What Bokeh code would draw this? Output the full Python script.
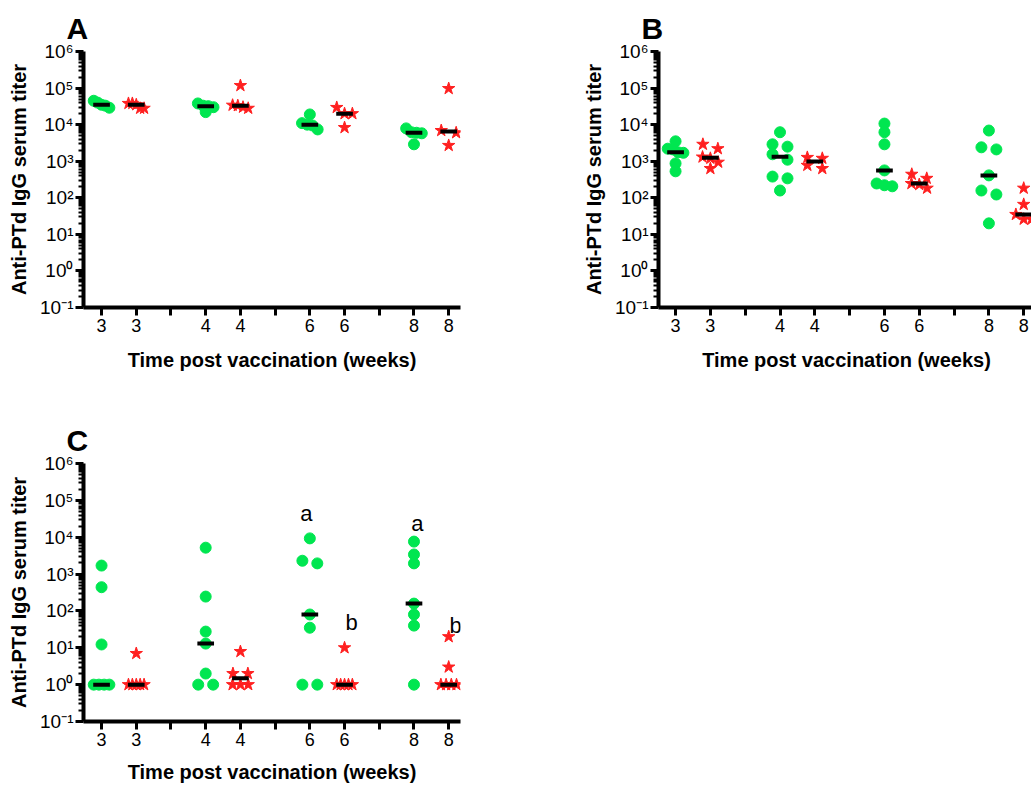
import numpy as np
from bokeh.plotting import figure
from bokeh.layouts import column, row
from bokeh.models import FixedTicker, Range1d
from bokeh.embed import file_html
from bokeh.resources import INLINE
from bokeh.core.properties import value

FONT = "Liberation Sans"
GREEN = "#00E650"
RED = "#FF2020"

# ---------------- data ----------------
x_ticks = [1, 2, 3, 4, 5, 6, 7, 8, 9, 10, 11]
x_tick_labels = ["3", "3", "", "4", "4", "", "6", "6", "", "8", "8"]
group_x_green = [1, 4, 7, 10]      # columns for the green (circle) groups
group_x_red = [2, 5, 8, 11]        # columns for the red (star) groups

y_ticks = [1e-1, 1e0, 1e1, 1e2, 1e3, 1e4, 1e5, 1e6]
y_tick_labels = ["10⁻¹", "10⁰", "10¹", "10²", "10³", "10⁴", "10⁵", "10⁶"]

x_title = "Time post vaccination (weeks)"
y_title = "Anti-PTd IgG serum titer"

# Panel A  (weeks 3, 4, 6, 8)
A_green = [
    [4.5e4, 4.0e4, 3.5e4, 3.3e4, 2.9e4],
    [3.8e4, 3.3e4, 3.2e4, 3.0e4, 2.2e4],
    [1.9e4, 1.1e4, 1.0e4, 9.5e3, 7.4e3],
    [7.9e3, 6.2e3, 6.0e3, 5.8e3, 2.9e3],
]
A_red = [
    [3.8e4, 3.8e4, 3.5e4, 2.8e4, 2.8e4],
    [1.17e5, 3.4e4, 3.3e4, 3.0e4, 2.8e4],
    [2.95e4, 2.0e4, 2.0e4, 8.3e3],
    [9.7e4, 6.9e3, 6.0e3, 2.7e3],
]

# Panel B
B_green = [
    [3.5e3, 2.2e3, 2.1e3, 1.75e3, 1.7e3, 870, 530],
    [6.2e3, 2.9e3, 2.5e3, 1.55e3, 1.1e3, 380, 340, 158],
    [1.07e4, 6.2e3, 2.9e3, 560, 246, 220, 206],
    [6.9e3, 2.4e3, 2.1e3, 410, 158, 123, 20],
]
B_red = [
    [2.9e3, 2.2e3, 1.3e3, 1.2e3, 940, 630],
    [1.27e3, 1.2e3, 770, 630],
    [440, 340, 245, 230, 183],
    [183, 66, 35, 26, 26],
]

# Panel C
C_green = [
    [1.7e3, 440, 12.3, 1, 1, 1, 1],
    [5.2e3, 245, 27.5, 13, 2.0, 1, 1],
    [9.3e3, 2.3e3, 1.95e3, 80, 35, 1, 1],
    [7.6e3, 3.4e3, 1.95e3, 158, 80, 40, 1],
]
C_red = [
    [7.0, 1, 1, 1, 1, 1],
    [7.9, 2, 2, 1, 1, 1],
    [10, 1, 1, 1, 1, 1],
    [20, 3, 1, 1, 1, 1],
]
C_sig_text = ["a", "b", "a", "b"]
C_sig_x = [6.9, 8.2, 10.1, 11.2]
C_sig_y = [4.4e4, 50, 2.3e4, 40]


# ---------------- helpers ----------------
def swarm(center, vals, bin_dec=0.2, max_step=0.43, max_width=0.45):
    """Deterministic column-scatter: points of similar value share a row and are spread."""
    order = sorted(range(len(vals)), key=lambda i: -vals[i])
    xs = [0.0] * len(vals)
    rows, cur = [], []
    for i in order:
        lv = np.log10(vals[i])
        if cur and (np.log10(vals[cur[0]]) - lv) < bin_dec:
            cur.append(i)
        else:
            if cur:
                rows.append(cur)
            cur = [i]
    rows.append(cur)
    for r in rows:
        n = len(r)
        step = min(max_step, max_width / (n - 1)) if n > 1 else 0.0
        for k, i in enumerate(r):
            xs[i] = center + (k - (n - 1) / 2) * step
    return xs


def style_axes(p, xlab_standoff):
    for ax in (p.xaxis[0], p.yaxis[0]):
        ax.axis_line_width = 4
        ax.axis_line_color = "black"
        ax.major_tick_line_width = 3
        ax.major_tick_out = 8
        ax.major_tick_in = 0
        ax.minor_tick_line_width = 2
        ax.minor_tick_out = 5
        ax.minor_tick_in = 0
        ax.major_label_text_font = FONT
        ax.major_label_text_color = "black"
        ax.axis_label_text_font = FONT
        ax.axis_label_text_font_size = "20px"
        ax.axis_label_text_font_style = "bold"
        ax.axis_label_text_color = "black"
    p.xaxis[0].major_label_text_font_size = "18px"
    p.yaxis[0].major_label_text_font_size = "19px"
    p.xaxis[0].major_label_standoff = 3
    p.xaxis[0].axis_label_standoff = xlab_standoff
    p.yaxis[0].major_label_standoff = 2
    p.yaxis[0].axis_label_standoff = 7


def make_panel(letter, greens, reds, xr, fw, fh, borders, xlab_standoff=14, sig=None):
    top, right, bottom, left = borders
    p = figure(frame_width=fw, frame_height=fh, y_axis_type="log",
               x_range=Range1d(*xr), y_range=Range1d(y_ticks[0], y_ticks[-1]),
               output_backend="svg", toolbar_location=None,
               min_border_top=top, min_border_right=right,
               min_border_bottom=bottom, min_border_left=left,
               x_axis_label=x_title, y_axis_label=y_title)
    p.outline_line_color = None
    p.grid.visible = False
    p.background_fill_color = "white"
    p.border_fill_color = "white"

    p.xaxis[0].ticker = FixedTicker(ticks=x_ticks, minor_ticks=[])
    p.xaxis[0].major_label_overrides = {t: l for t, l in zip(x_ticks, x_tick_labels)}
    minors = [m * 10.0 ** k for k in range(-1, 6) for m in range(2, 10)]
    p.yaxis[0].ticker = FixedTicker(ticks=y_ticks, minor_ticks=minors)
    p.yaxis[0].major_label_overrides = {t: l for t, l in zip(y_ticks, y_tick_labels)}
    style_axes(p, xlab_standoff)

    p.title.text = letter
    p.title.text_font = FONT
    p.title.text_font_size = "30px"
    p.title.text_font_style = "bold"
    p.title.text_color = "black"
    p.title.align = "left"
    p.title.offset = -17
    p.title.standoff = 14

    gx, gy, rx, ry = [], [], [], []
    mx0, mx1, my = [], [], []
    for c, vals in zip(group_x_green, greens):
        gx += swarm(c, vals)
        gy += list(vals)
        mx0.append(c - 0.24); mx1.append(c + 0.24); my.append(float(np.median(vals)))
    for c, vals in zip(group_x_red, reds):
        rx += swarm(c, vals)
        ry += list(vals)
        mx0.append(c - 0.24); mx1.append(c + 0.24); my.append(float(np.median(vals)))

    p.scatter(x=gx, y=gy, marker="circle", size=11, fill_color=GREEN, line_color=GREEN)
    p.scatter(x=rx, y=ry, marker="star", size=13, fill_color=RED, line_color=RED)
    p.segment(x0=mx0, y0=my, x1=mx1, y1=my, line_color="black", line_width=4)

    if sig is not None:
        sx, sy, st = sig
        p.text(x=sx, y=sy, text=st, text_font=value(FONT), text_font_size="22px",
               text_align="center", text_baseline="middle", text_color="black")
    return p


pA = make_panel("A", A_green, A_red, (0.48, 11.34), 377, 256, (51, 120, 93, 83))
pB = make_panel("B", B_green, B_red, (0.51, 11.31), 376, 256, (51, 0, 93, 75))
pC = make_panel("C", C_green, C_red, (0.48, 11.34), 377, 258, (63, 10, 69, 83),
                xlab_standoff=12, sig=(C_sig_x, C_sig_y, C_sig_text))

layout = column(row(pA, pB), pC)
open("out.html", "w").write(file_html(layout, INLINE))
